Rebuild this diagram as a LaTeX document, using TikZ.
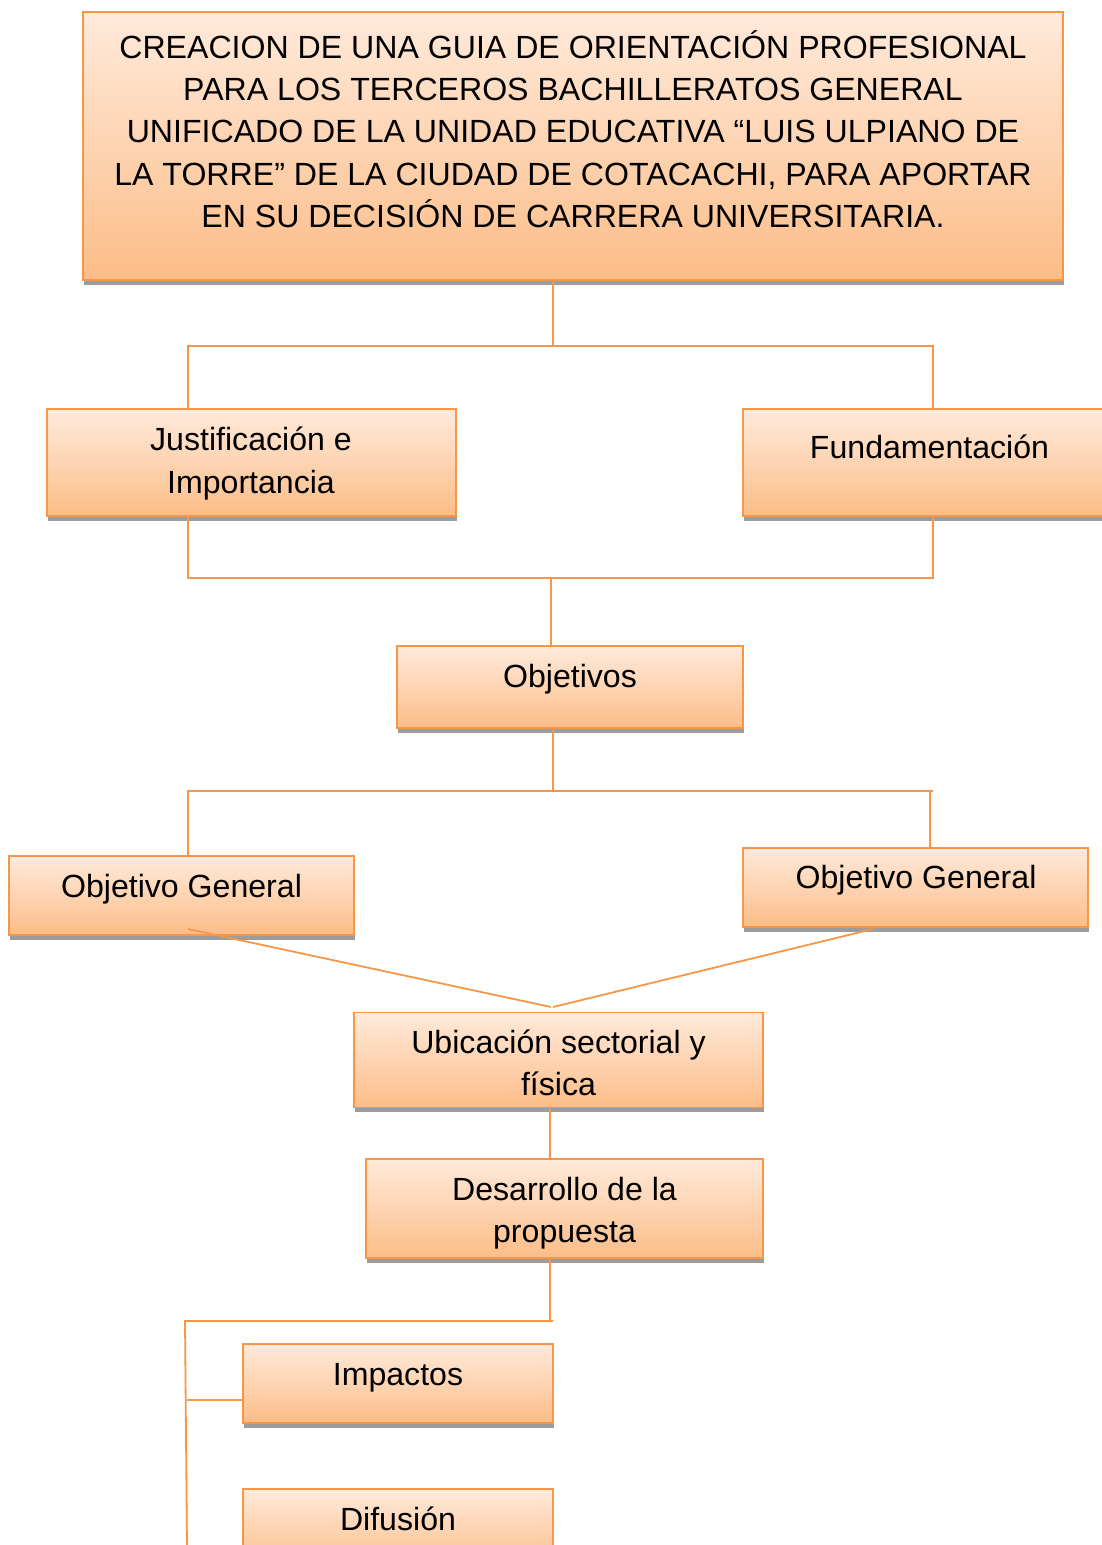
\documentclass[tikz,border=0pt]{standalone}
\usepackage{fontspec}
\setmainfont{Liberation Sans}
\usetikzlibrary{shadows,calc}
\definecolor{orangeline}{HTML}{F79646}
\definecolor{boxtop}{HTML}{FFEADB}
\definecolor{boxbot}{HTML}{FCBD88}
\definecolor{shadowgray}{HTML}{9C9C9C}
\newcommand{\mystrut}{\rule[-7pt]{0pt}{31pt}}
\tikzset{
  boxstyle/.style={draw=orangeline, line width=1.8pt, top color=boxtop, bottom color=boxbot,
    inner sep=0pt, outer sep=0pt,
    drop shadow={shadow xshift=1pt, shadow yshift=-4.5pt, fill=shadowgray, opacity=1}},
  txt/.style={font=\fontsize{32.1}{42.2}\selectfont, align=center, inner sep=0pt},
  conn/.style={draw=orangeline, line width=1.8pt}
}
\begin{document}
\begin{tikzpicture}[x=1pt,y=-1pt]
\useasboundingbox (0,0) rectangle (1102,1545);
% boxes: centre (x,y), width, height
\node[boxstyle, minimum width=980, minimum height=268] (top) at (573,146) {};
\node[boxstyle, minimum width=409, minimum height=107] (jus) at (251.5,462.5) {};
\node[boxstyle, minimum width=373, minimum height=107] (fund) at (929.5,462.5) {};
\node[boxstyle, minimum width=346, minimum height=82] (obj) at (570,687) {};
\node[boxstyle, minimum width=345, minimum height=79] (ogl) at (181.5,895.5) {};
\node[boxstyle, minimum width=345, minimum height=79] (ogr) at (915.5,887.5) {};
\node[boxstyle, minimum width=409, minimum height=95] (ubi) at (558.5,1060) {};
\node[boxstyle, minimum width=397, minimum height=99] (des) at (564.5,1208.5) {};
\node[boxstyle, minimum width=310, minimum height=79] (imp) at (398,1383.5) {};
\node[boxstyle, minimum width=310, minimum height=79] (dif) at (398,1528.5) {};
% texts
\node[txt] (ttop) at (573,132.5) {\mystrut CREACION DE UNA GUIA DE ORIENTACIÓN PROFESIONAL\\\mystrut PARA LOS TERCEROS BACHILLERATOS GENERAL\\\mystrut UNIFICADO DE LA UNIDAD EDUCATIVA “LUIS ULPIANO DE\\\mystrut LA TORRE” DE LA CIUDAD DE COTACACHI, PARA APORTAR\\\mystrut EN SU DECISIÓN DE CARRERA UNIVERSITARIA.};
\node[txt] (tjus) at (251,463.5) {\mystrut Justificación e\\\mystrut Importancia};
\node[txt] (tfund) at (929.5,449.5) {\mystrut Fundamentación};
\node[txt] (tobj) at (570,679) {\mystrut Objetivos};
\node[txt] (togl) at (181.5,889) {\mystrut Objetivo General};
\node[txt] (togr) at (916,880) {\mystrut Objetivo General};
\node[txt] (tubi) at (558.5,1066) {\mystrut Ubicación sectorial y\\\mystrut física};
\node[txt] (tdes) at (564.5,1213) {\mystrut Desarrollo de la\\\mystrut propuesta};
\node[txt] (timp) at (398,1377) {\mystrut Impactos};
\node[txt] (tdif) at (398,1522) {\mystrut Difusión};
% junction coordinates
\coordinate (a0) at (553,346);
\coordinate (a1) at (188,346);
\coordinate (a2) at (933,346);
\coordinate (b0) at (551,578);
\coordinate (b1) at (188,578);
\coordinate (b2) at (933,578);
\coordinate (c0) at (553,791);
\coordinate (c1) at (188,791);
\coordinate (c2) at (933,791);
\coordinate (c3) at (930,791);
\coordinate (d0) at (551,1007);
\coordinate (d1) at (553,1007);
\coordinate (dl) at (188,929);
\coordinate (dr) at (873,929);
\coordinate (e0) at (550,1200);
\coordinate (f0) at (550,1321);
\coordinate (f1) at (553,1321);
\coordinate (f2) at (185,1321);
\coordinate (f3) at (187,1548);
\coordinate (g0) at (187,1400);
% connectors
\draw[conn] (top.south -| a0) -- (a0);
\draw[conn] (jus.north -| a1) -- (a1) -- (a2) -- (fund.north -| a2);
\draw[conn] (jus.south -| b1) -- (b1) -- (b2) -- (fund.south -| b2);
\draw[conn] (b0) -- (obj.north -| b0);
\draw[conn] (obj.south -| c0) -- (c0);
\draw[conn] (ogl.north -| c1) -- (c1) -- (c2);
\draw[conn] (c3) -- (ogr.north -| c3);
\draw[conn] (dl) -- (d0);
\draw[conn] (dr) -- (d1);
\draw[conn] (ubi.south -| e0) -- (des.north -| e0);
\draw[conn] (des.south -| f0) -- (f0);
\draw[conn] (f1) -- (f2) -- (f3);
\draw[conn] (g0) -- (imp.west |- g0);
\end{tikzpicture}
\end{document}
